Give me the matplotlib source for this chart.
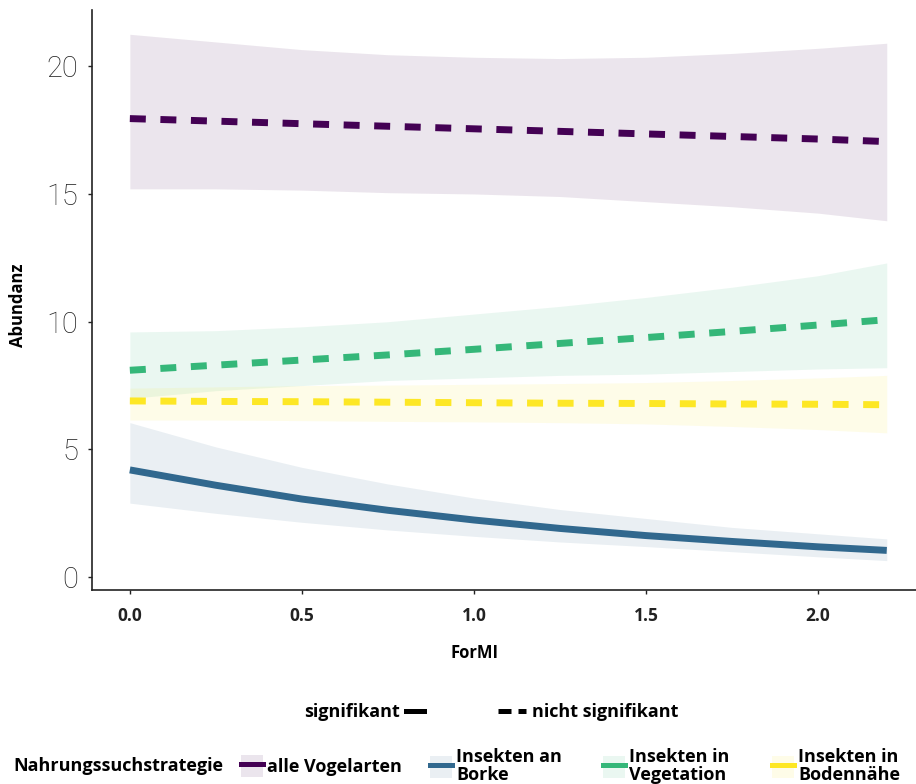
import matplotlib.pyplot as plt
from matplotlib.lines import Line2D
from matplotlib.patches import Patch

x = [0.0, 0.25, 0.5, 0.75, 1.0, 1.25, 1.5, 1.75, 2.0, 2.2]

# fitted abundance
fit_alle = [17.95, 17.85, 17.75, 17.65, 17.55, 17.45, 17.35, 17.25, 17.15, 17.05]
fit_borke = [4.2, 3.6, 3.06, 2.62, 2.24, 1.91, 1.63, 1.4, 1.19, 1.05]
fit_veg = [8.1, 8.3, 8.5, 8.7, 8.92, 9.15, 9.38, 9.62, 9.87, 10.08]
fit_boden = [6.9, 6.88, 6.87, 6.85, 6.83, 6.81, 6.8, 6.78, 6.77, 6.75]

# confidence bands (lower, upper)
lo_alle = [15.2, 15.2, 15.15, 15.05, 15.0, 14.9, 14.7, 14.5, 14.25, 13.95]
hi_alle = [21.25, 20.95, 20.65, 20.45, 20.35, 20.3, 20.35, 20.5, 20.7, 20.9]
lo_borke = [2.9, 2.5, 2.15, 1.85, 1.6, 1.38, 1.2, 1.0, 0.8, 0.65]
hi_borke = [6.05, 5.1, 4.3, 3.65, 3.1, 2.65, 2.3, 1.95, 1.7, 1.5]
lo_veg = [7.0, 7.3, 7.5, 7.7, 7.8, 7.9, 7.95, 8.05, 8.15, 8.2]
hi_veg = [9.6, 9.65, 9.8, 10.0, 10.3, 10.6, 10.95, 11.35, 11.8, 12.3]
lo_boden = [6.15, 6.15, 6.13, 6.1, 6.08, 6.05, 6.0, 5.9, 5.78, 5.65]
hi_boden = [7.4, 7.45, 7.5, 7.52, 7.55, 7.58, 7.62, 7.7, 7.8, 7.9]

series = [
    ('alle Vogelarten', fit_alle, lo_alle, hi_alle, '#440154', False),
    ('Insekten an\nBorke', fit_borke, lo_borke, hi_borke, '#31688E', True),
    ('Insekten in\nVegetation', fit_veg, lo_veg, hi_veg, '#35B779', False),
    ('Insekten in\nBodennähe', fit_boden, lo_boden, hi_boden, '#FDE725', False),
]

W, H = 916, 784
fig = plt.figure(figsize=(W / 100, H / 100), dpi=100)
ax = fig.add_axes([92 / W, 1 - 590 / H, 824 / W, 580 / H])

bold = dict(family=['Open Sans', 'DejaVu Sans'], weight='bold')

lw = 5
dash = (0, (2.3, 2.1))
for name, fit, lo, hi, col, sig in series:
    ax.fill_between(x, lo, hi, color=col, alpha=0.1, linewidth=0)
for name, fit, lo, hi, col, sig in series:
    ax.plot(x, fit, color=col, lw=lw, linestyle='-' if sig else dash,
            solid_capstyle='butt', dash_capstyle='butt')

ax.set_xlim(-0.11, 2.285)
ax.set_ylim(-0.5, 22.2)
ax.set_xticks([0, 0.5, 1.0, 1.5, 2.0])
ax.set_xticklabels(['0.0', '0.5', '1.0', '1.5', '2.0'], fontsize=12.5, **bold)
ax.set_yticks([0, 5, 10, 15, 20])
ax.set_yticklabels(['0', '5', '10', '15', '20'], fontsize=21,
                   fontweight='light', family=['Roboto', 'DejaVu Sans'])
ax.tick_params(axis='x', length=3, width=1, pad=9, colors='#222222')
ax.tick_params(axis='y', length=3, width=1, pad=7, colors='#222222')
for s in ['top', 'right']:
    ax.spines[s].set_visible(False)
for s in ['left', 'bottom']:
    ax.spines[s].set_linewidth(1.2)
    ax.spines[s].set_color('#222222')

fig.text(18 / W, 1 - 305 / H, 'Abundanz', rotation=90, ha='center', va='center',
         fontsize=12, **bold)
fig.text(474 / W, 1 - 653 / H, 'ForMI', ha='center', va='center',
         fontsize=12, **bold)

# legends (fig.legend keeps every legend it makes)
fs = 13
lprops = dict(family=['Open Sans', 'DejaVu Sans'], weight='bold', size=fs)
px = fs * 100 / 72  # pixels per fontsize unit

fig.legend(handles=[Line2D([], [], color='black', lw=3.6)], labels=['signifikant'],
           loc='center right', bbox_to_anchor=(424 / W, 1 - 712 / H), frameon=False,
           markerfirst=False, handlelength=18 / px, handletextpad=6 / px, prop=lprops,
           borderaxespad=0, borderpad=0)
fig.legend(handles=[Line2D([], [], color='black', lw=3.6, linestyle=(0, (2.6, 1.4)))],
           labels=['nicht signifikant'],
           loc='center left', bbox_to_anchor=(498 / W, 1 - 712 / H), frameon=False,
           handlelength=28 / px, handletextpad=6 / px, prop=lprops,
           borderaxespad=0, borderpad=0)

fig.text(13 / W, 1 - 766 / H, 'Nahrungssuchstrategie', ha='left', va='center', **lprops)

# one legend entry per strategy, placed at the key positions of the original
key_x = [241, 430, 603, 772]
for (name, fit, lo, hi, col, sig), kx in zip(series, key_x):
    h = (Patch(color=col, alpha=0.1, lw=0), Line2D([], [], color=col, lw=3.6))
    leg = fig.legend(handles=[h], labels=[name], loc='center left',
                     bbox_to_anchor=(kx / W, 1 - 766 / H), frameon=False,
                     handlelength=22 / px, handleheight=26 / px, handletextpad=4 / px,
                     prop=lprops, borderaxespad=0, borderpad=0)
    for t in leg.get_texts():
        t.set_linespacing(0.95)

fig.savefig('out.png', dpi=100)
